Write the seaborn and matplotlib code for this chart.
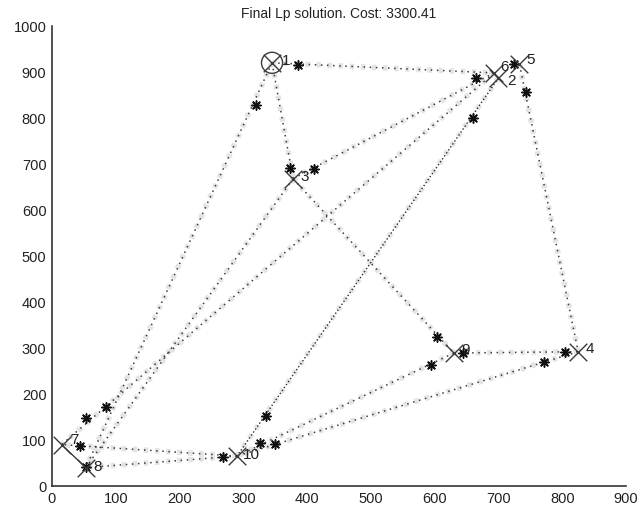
import matplotlib
matplotlib.use("Agg")
import matplotlib.pyplot as plt
import seaborn as sns
import pandas as pd
import numpy as np

# ---- data ----
node_ids = [1, 2, 3, 4, 5, 6, 7, 8, 9, 10]
node_x = [345, 700, 378, 825, 733, 693, 15, 53, 630, 290]
node_y = [920, 887, 668, 292, 917, 898, 90, 40, 289, 65]
label_dx = [22, 20, 18, 18, 18, 16, 20, 18, 18, 22]
label_dy = [4, -6, 4, 6, 8, 12, 10, 2, 6, 2]

edge_from = [1, 1, 1, 3, 3, 3, 6, 5, 9, 9, 4, 10, 10]
edge_to   = [6, 3, 8, 6, 9, 8, 7, 4, 4, 10, 10, 7, 8]

fine_from = [2]
fine_to = [10]

solid_from = [7]
solid_to = [8]

star_x = [386, 320, 373, 411, 665, 743, 660, 603, 595, 644, 804, 771, 335, 326, 350, 268, 53, 85, 44, 725, 53]
star_y = [915, 828, 691, 689, 886, 856, 799, 325, 263, 289, 292, 270, 152, 94, 91, 64, 148, 172, 87, 918, 42]

title = "Final Lp solution. Cost: 3300.41"
xticks = [0, 100, 200, 300, 400, 500, 600, 700, 800, 900]
yticks = [0, 100, 200, 300, 400, 500, 600, 700, 800, 900, 1000]

# ---- build tables ----
pos = {n: (x, y) for n, x, y in zip(node_ids, node_x, node_y)}

def edge_df(frm, to):
    rows = []
    for k, (a, b) in enumerate(zip(frm, to)):
        rows.append({"edge": k, "x": pos[a][0], "y": pos[a][1]})
        rows.append({"edge": k, "x": pos[b][0], "y": pos[b][1]})
    return pd.DataFrame(rows)

edges = edge_df(edge_from, edge_to)
fine = edge_df(fine_from, fine_to)
solid = edge_df(solid_from, solid_to)
nodes = pd.DataFrame({"id": node_ids, "x": node_x, "y": node_y})
stars = pd.DataFrame({"x": star_x, "y": star_y})

sns.set_style("white")
plt.rcParams["font.family"] = ["Liberation Sans", "DejaVu Sans"]

fig = plt.figure(figsize=(6.39, 5.16), dpi=100)
ax = fig.add_axes([52 / 639, 30 / 516, 574 / 639, 460 / 516])

# faint speckled halo
for df in (edges, fine):
    sns.lineplot(data=df, x="x", y="y", units="edge", estimator=None, sort=False,
                 ax=ax, color="#e4e4e4", lw=4.0, linestyle=(0, (0.8, 1.2)), legend=False)
# dotted routes
sns.lineplot(data=edges, x="x", y="y", units="edge", estimator=None, sort=False,
             ax=ax, color="#3a3a3a", lw=1.1, linestyle=(0, (1, 3)), legend=False)
sns.lineplot(data=fine, x="x", y="y", units="edge", estimator=None, sort=False,
             ax=ax, color="#2a2a2a", lw=1.0, linestyle=(0, (1, 1.6)), legend=False)
sns.lineplot(data=solid, x="x", y="y", units="edge", estimator=None, sort=False,
             ax=ax, color="#2a2a2a", lw=0.9, legend=False)

# stars
sns.scatterplot(data=stars, x="x", y="y", ax=ax, marker=(8, 2, 0), s=45,
                color="#111111", linewidth=1.1, edgecolor="#111111", zorder=5)
sns.scatterplot(data=stars, x="x", y="y", ax=ax, marker="o", s=7,
                color="#111111", linewidth=0, zorder=5)

# node X markers
sns.scatterplot(data=nodes, x="x", y="y", ax=ax, marker="x", s=160,
                color="#3a3a3a", linewidth=1.0, zorder=6)
# depot circle on node 1
depot = nodes[nodes["id"] == 1]
sns.scatterplot(data=depot, x="x", y="y", ax=ax, marker="o", s=230,
                facecolor="none", edgecolor="#3a3a3a", linewidth=1.0, zorder=6)

for n, x, y, dx, dy in zip(node_ids, node_x, node_y, label_dx, label_dy):
    ax.text(x + dx, y + dy, str(n), fontsize=11, color="#222222",
            va="center", ha="center", zorder=7)

ax.set_xlim(0, 900)
ax.set_ylim(0, 1000)
ax.set_xticks(xticks)
ax.set_yticks(yticks)
ax.set_xlabel("")
ax.set_ylabel("")
ax.tick_params(direction="in", length=5, width=1, labelsize=10.5,
               colors="#222222", pad=4)
for s in ("top", "right"):
    ax.spines[s].set_visible(False)
for s in ("left", "bottom"):
    ax.spines[s].set_color("#333333")
    ax.spines[s].set_linewidth(1.2)
ax.set_title(title, fontsize=10, color="#222222", pad=6)

fig.savefig("out.png", dpi=100)
